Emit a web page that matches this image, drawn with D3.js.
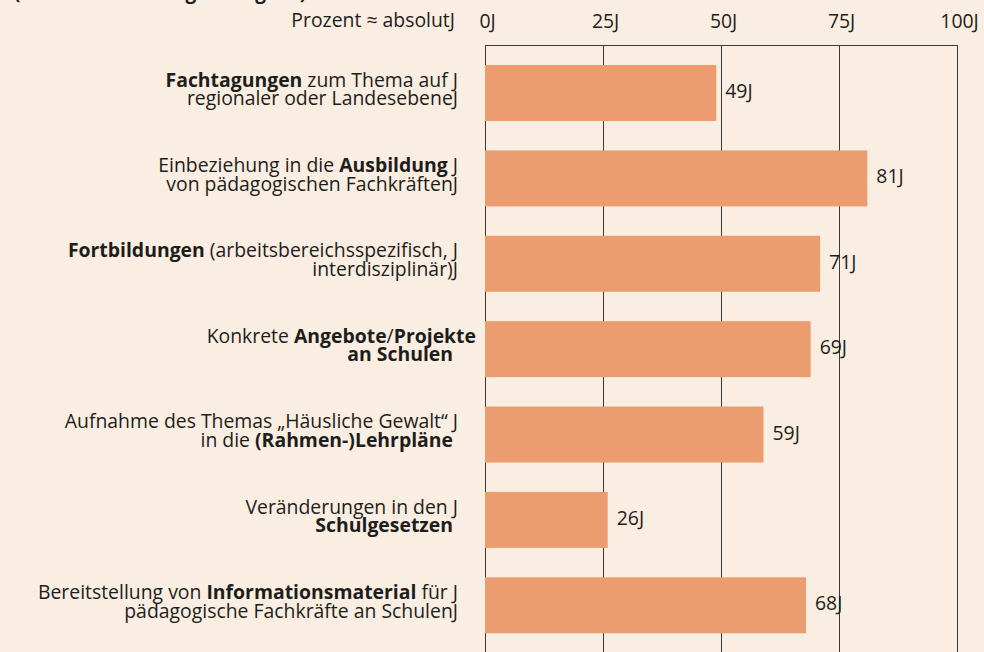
<!DOCTYPE html>
<html>
<head>
<meta charset="utf-8">
<script src="https://cdn.jsdelivr.net/npm/d3@7"></script>
<style>
  html, body { margin: 0; padding: 0; background: #faeee2; }
  svg { display: block; }
  text { font-family: "Open Sans", "Noto Sans", sans-serif; fill: #1d1d1b; }
</style>
</head>
<body>
<div id="chart"></div>
<script>
// Bar values (absolute ~ percent)
var values = [49, 81, 71, 69, 59, 26, 68];
var valueSuffix = 'J';

// Axis ticks
var ticks = [0, 25, 50, 75, 100];
var axisCaption = 'Prozent \u2248 absolutJ';
var cutTitle = '(Mehrfachnennungen möglich)';

// Category labels, two lines each, segments [text, bold]
var labelLines = [
    [ [['Fachtagungen', true], [' zum  Thema auf J', false]],
      [['regionaler oder LandesebeneJ', false]] ],
    [ [['Einbeziehung in die ', false], ['Ausbildung', true], [' J', false]],
      [['von pädagogischen FachkräftenJ', false]] ],
    [ [['Fortbildungen', true], [' (arbeitsbereichsspezifisch, J', false]],
      [['interdisziplinär)J', false]] ],
    [ [['Konkrete ', false], ['Angebote', true], ['/', false], ['Projekte', true]],
      [['an Schulen', true]] ],
    [ [['Aufnahme des Themas „Häusliche Gewalt“ J', false]],
      [['in die ', false], ['(Rahmen-)Lehrpläne', true]] ],
    [ [['Veränderungen in den J', false]],
      [['Schulgesetzen', true]] ],
    [ [['Bereitstellung von ', false], ['Informationsmaterial', true], [' für J', false]],
      [['pädagogische Fachkräfte an SchulenJ', false]] ]
];
// right edge of each label line (lines without trailing J end a little off the common edge)
var lineEnds = [ [458, 458], [458, 458], [458, 458], [476, 453], [458, 453], [458, 453], [458, 458] ];

var width = 984, height = 652;
var fontSize = 19.4;

var svg = d3.select('#chart').append('svg')
    .attr('width', width)
    .attr('height', height);

svg.append('rect').attr('width', width).attr('height', height).attr('fill', '#faeee2');

var x = d3.scaleLinear().domain([0, 100]).range([485, 957]);
var y = d3.scaleBand()
    .domain(d3.range(values.length))
    .range([50.3, 648])
    .paddingInner(0.344)
    .paddingOuter(0.172);

var frameTop = 45;

// cut-off title at very top
svg.append('text')
    .attr('x', 14)
    .attr('y', -1.5)
    .style('font-size', '19px')
    .style('font-weight', 'bold')
    .text(cutTitle);

// grid / frame
svg.append('line')
    .attr('x1', x(0)).attr('x2', x(100))
    .attr('y1', frameTop + 0.5).attr('y2', frameTop + 0.5)
    .attr('stroke', '#3a3a3a').attr('stroke-width', 1);

svg.selectAll('line.grid')
    .data(ticks)
    .enter()
    .append('line')
        .attr('class', 'grid')
        .attr('x1', function(d) { return Math.round(x(d)) + 0.5; })
        .attr('x2', function(d) { return Math.round(x(d)) + 0.5; })
        .attr('y1', frameTop)
        .attr('y2', height + 5)
        .attr('stroke', '#3a3a3a')
        .attr('stroke-width', 1);

// tick labels: number centred on the gridline, J hangs to the right
var tickText = svg.selectAll('text.tick')
    .data(ticks)
    .enter()
    .append('text')
        .attr('class', 'tick')
        .attr('y', 28)
        .style('font-size', fontSize + 'px')
        .text(function(d) { return d + valueSuffix; });
tickText.each(function(d) {
    var num = this.getSubStringLength(0, String(d).length);
    d3.select(this).attr('x', x(d) - num / 2);
});

svg.append('text')
    .attr('x', 455)
    .attr('y', 27)
    .attr('text-anchor', 'end')
    .style('font-size', fontSize + 'px')
    .text(axisCaption);

// bars
svg.selectAll('rect.bar')
    .data(values)
    .enter()
    .append('rect')
        .attr('class', 'bar')
        .attr('x', x(0))
        .attr('y', function(d, i) { return y(i); })
        .attr('width', function(d) { return x(d) - x(0); })
        .attr('height', y.bandwidth())
        .attr('fill', '#eb9d70');

// value labels
svg.selectAll('text.val')
    .data(values)
    .enter()
    .append('text')
        .attr('class', 'val')
        .attr('x', function(d) { return x(d) + 9; })
        .attr('y', function(d, i) { return y(i) + y.bandwidth() / 2 + 5; })
        .style('font-size', fontSize + 'px')
        .text(function(d) { return d + valueSuffix; });

// category labels
labelLines.forEach(function(lines, i) {
    var cy = y(i) + y.bandwidth() / 2;
    lines.forEach(function(segs, j) {
        var t = svg.append('text')
            .attr('x', lineEnds[i][j])
            .attr('y', cy + (j === 0 ? -6.3 : 12.2))
            .attr('text-anchor', 'end')
            .style('font-size', fontSize + 'px');
        segs.forEach(function(s) {
            t.append('tspan')
                .style('font-weight', s[1] ? 'bold' : 'normal')
                .text(s[0]);
        });
    });
});
</script>
</body>
</html>
